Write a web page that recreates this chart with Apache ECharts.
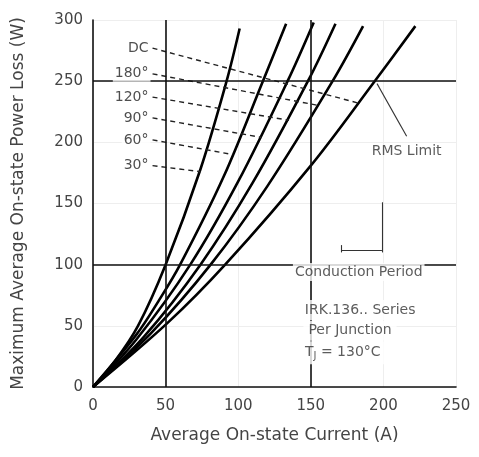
<!DOCTYPE html>
<html>
<head>
<meta charset="utf-8">
<script src="https://cdn.jsdelivr.net/npm/echarts@6/dist/echarts.min.js"></script>
<style>
  html, body { margin: 0; padding: 0; background: #fff; }
  #chart { width: 479px; height: 457px; }
</style>
</head>
<body>
<div id="chart"></div>
<script>
// curves, [current A, power W]
const curve30 = [[0, 0], [15, 21], [31, 50], [50, 100], [74, 178], [92, 250], [101, 293]];
const curve60 = [[0, 0], [30, 43], [45, 70], [60, 100], [90, 172], [117, 250], [133, 297]];
const curve90 = [[0, 0], [30, 39], [67, 100], [100, 168], [134, 250], [152, 298]];
const curve120 = [[0, 0], [35, 41], [74, 100], [110, 167], [148, 250], [167, 297]];
const curve180 = [[0, 0], [40, 44], [81, 100], [120, 164], [165, 250], [186, 295]];
const curveDC = [[0, 0], [51, 52], [91, 100], [150, 181], [194, 250], [222, 295]];

// label leaders: name, start, end (on its curve)
const leaderNames = ['DC', '180°', '120°', '90°', '60°', '30°'];
const leaderStart = [[41, 277], [41, 256], [41, 237], [41, 220], [41, 202], [41, 181]];
const leaderEnd = [[183, 232], [156, 230], [135, 218], [116, 204], [96, 190], [74, 176]];

const boldX = [50, 150];
const boldY = [100, 250];

// annotations in data units
const rmsLeader = [[195.6, 248], [216, 205]];
const rmsText = [216, 193];
const periodBar = [[199, 151], [199, 110]];
const periodArrow = [[171, 112], [199, 112]];
const periodText = [183, 94];
const boxLines = ['IRK.136.. Series', 'Per Junction', '{t|T}{s|J}{t| = 130°C}'];
const boxPos = [[184, 63], [177, 46], [172, 28]];

const font = '"DejaVu Sans", sans-serif';
const chart = echarts.init(document.getElementById('chart'));

function curveSeries(data) {
  return {
    type: 'line', data: data, smooth: 0.35, symbol: 'none', z: 3,
    lineStyle: { color: '#000', width: 2.6 },
  };
}

const series = [
  {
    type: 'line', data: [], z: 1,
    markLine: {
      silent: true, symbol: 'none', label: { show: false },
      lineStyle: { color: '#111', width: 1.6, type: 'solid' },
      data: boldX.map(v => ({ xAxis: v })).concat(boldY.map(v => ({ yAxis: v }))),
    },
  },
  curveSeries(curve30),
  curveSeries(curve60),
  curveSeries(curve90),
  curveSeries(curve120),
  curveSeries(curve180),
  curveSeries(curveDC),
];

leaderNames.forEach((name, i) => {
  series.push({
    type: 'line', symbol: 'none', z: 4,
    lineStyle: { color: '#222', width: 1.4, type: [5, 4] },
    data: [leaderStart[i], leaderEnd[i]],
  });
});

// RMS limit leader and conduction period symbol
series.push({
  type: 'line', data: [], z: 4,
  markLine: {
    silent: true, symbol: 'none', label: { show: false },
    lineStyle: { color: '#333', width: 1.1, type: 'solid' },
    data: [
      [{ coord: rmsLeader[0] }, { coord: rmsLeader[1] }],
      [{ coord: periodBar[0] }, { coord: periodBar[1] }],
      [{ coord: periodArrow[0] }, { coord: periodArrow[1] }],
      [{ coord: [periodArrow[0][0], periodArrow[0][1] + 4] }, { coord: [periodArrow[0][0], periodArrow[0][1] - 2] }],
    ],
  },
});

// text annotations
function textPoint(pos, text, extra) {
  return {
    value: pos,
    label: Object.assign({
      show: true, position: 'inside', formatter: text,
      color: '#333', fontSize: 14, fontFamily: font,
      backgroundColor: '#fff', padding: [1, 2],
      rich: {
        t: { fontSize: 14, color: '#333', fontFamily: font },
        s: { fontSize: 10, color: '#333', fontFamily: font, verticalAlign: 'bottom', padding: [7, 0, 0, 0] },
      },
    }, extra || {}),
  };
}

const labelPoints = leaderNames.map((name, i) =>
  textPoint(leaderStart[i], name, { position: 'left', distance: 2, fontSize: 14, color: '#222' }));

series.push({
  type: 'scatter', symbolSize: 0, z: 6, silent: true,
  data: [
    textPoint(rmsText, 'RMS Limit', { backgroundColor: 'transparent' }),
    textPoint(periodText, 'Conduction Period', { padding: [2, 2] }),
  ].concat(boxLines.map((t, i) => textPoint(boxPos[i], t, { padding: [3, 5] })))
    .concat(labelPoints),
});

chart.setOption({
  animation: false,
  grid: { left: 93, right: 23, top: 20, bottom: 70 },
  xAxis: {
    type: 'value', min: 0, max: 250, interval: 50,
    name: 'Average On-state Current (A)', nameLocation: 'middle', nameGap: 40,
    nameTextStyle: { color: '#444', fontSize: 17, fontFamily: font },
    axisLine: { lineStyle: { color: '#111', width: 1.6 } },
    axisTick: { show: false },
    axisLabel: { color: '#444', fontSize: 15, fontFamily: font, margin: 12 },
    splitLine: { show: true, lineStyle: { color: '#eeeeee', width: 1 } },
  },
  yAxis: {
    type: 'value', min: 0, max: 300, interval: 50,
    name: 'Maximum Average On-state Power Loss (W)', nameLocation: 'middle', nameGap: 66,
    nameTextStyle: { color: '#444', fontSize: 17, fontFamily: font },
    axisLine: { show: true, lineStyle: { color: '#111', width: 1.6 } },
    axisTick: { show: false },
    axisLabel: { color: '#444', fontSize: 15, fontFamily: font, margin: 10 },
    splitLine: { show: true, lineStyle: { color: '#eeeeee', width: 1 } },
  },
  series: series,
});
</script>
</body>
</html>
